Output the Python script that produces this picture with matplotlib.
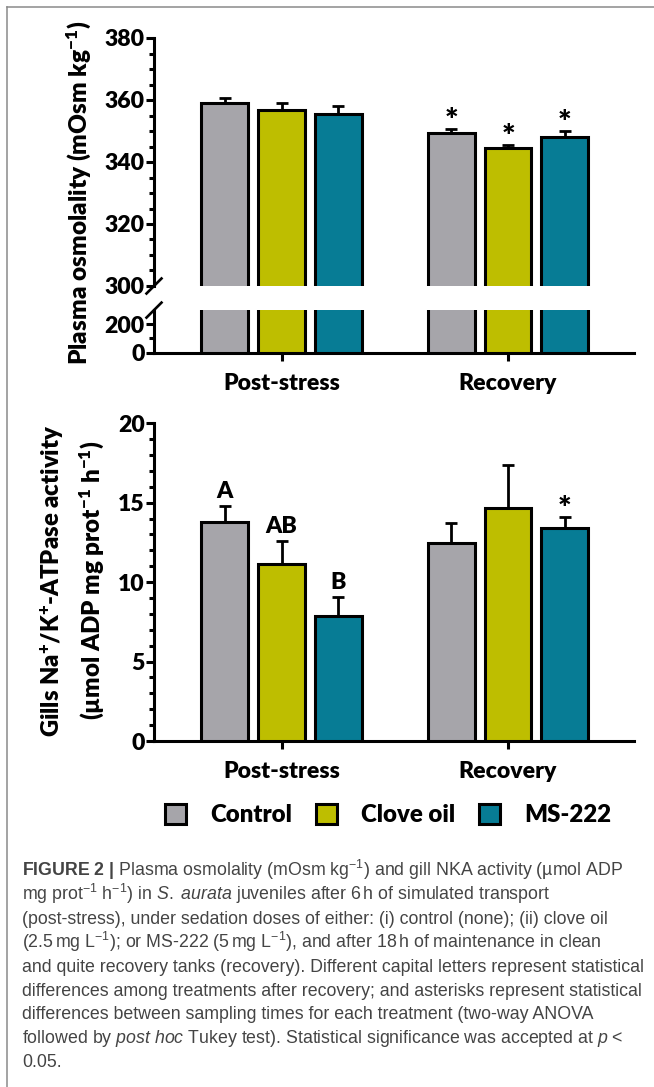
import numpy as np
import matplotlib
matplotlib.use("Agg")
import matplotlib.pyplot as plt
from matplotlib.patches import Patch
from matplotlib.lines import Line2D
from matplotlib.ticker import MultipleLocator, FixedLocator

# data
groups = ["Post-stress", "Recovery"]
treatments = ["Control", "Clove oil", "MS-222"]
colors = ["#a6a5aa", "#bebe00", "#077c95"]

osm_mean = [[359.1, 349.3], [356.7, 344.6], [355.4, 348.2]]
osm_err = [[1.6, 1.4], [2.2, 0.8], [2.6, 1.7]]
osm_marks = [["", "*"], ["", "*"], ["", "*"]]

nka_mean = [[13.8, 12.45], [11.15, 14.67], [7.86, 13.38]]
nka_err = [[1.0, 1.28], [1.45, 2.73], [1.2, 0.75]]
nka_marks = [["A", ""], ["AB", ""], ["B", "*"]]

caption = [
    r"$\mathbf{FIGURE\ 2\ |}$ Plasma osmolality (mOsm kg$^{-1}$) and gill NKA activity (µmol ADP",
    r"mg prot$^{-1}$ h$^{-1}$) in $\mathit{S.\ aurata}$ juveniles after 6$\,$h of simulated transport",
    r"(post-stress), under sedation doses of either: (i) control (none); (ii) clove oil",
    r"(2.5$\,$mg L$^{-1}$); or MS-222 (5$\,$mg L$^{-1}$), and after 18$\,$h of maintenance in clean",
    r"and quite recovery tanks (recovery). Different capital letters represent statistical",
    r"differences among treatments after recovery; and asterisks represent statistical",
    r"differences between sampling times for each treatment (two-way ANOVA",
    r"followed by $\mathit{post\ hoc}$ Tukey test). Statistical significance was accepted at $\mathit{p}$ <",
    r"0.05.",
]

W, H = 654, 1087
WT = "heavy"
plt.rcParams["font.family"] = ["Lato", "DejaVu Sans"]
plt.rcParams["font.weight"] = WT
plt.rcParams["mathtext.fontset"] = "custom"
plt.rcParams["mathtext.rm"] = "Liberation Sans:weight=normal"
plt.rcParams["mathtext.it"] = "Liberation Sans:style=italic:weight=normal"
plt.rcParams["mathtext.bf"] = "Liberation Sans:weight=bold"
plt.rcParams["mathtext.sf"] = "Lato:weight=" + WT

FS = 16.6
LW = 2.2

fig = plt.figure(figsize=(W / 100, H / 100), dpi=100)


def rect(l, t, r, b):
    return [l / W, 1 - b / H, (r - l) / W, (b - t) / H]


x = np.arange(len(groups))
off = 0.25
bw = 0.207


def style(ax):
    for s in ["top", "right"]:
        ax.spines[s].set_visible(False)
    for s in ["left", "bottom"]:
        ax.spines[s].set_linewidth(LW)
    ax.tick_params(axis="y", which="major", length=5.8, width=LW, pad=1, labelsize=FS)
    ax.tick_params(axis="y", which="minor", length=3.6, width=LW)
    ax.tick_params(axis="x", length=6, width=LW, pad=8.5, labelsize=FS)
    ax.set_xlim(-0.563, 1.556)


def draw_bars(ax, means, errs=None, marks=None):
    for i in range(len(treatments)):
        pos = x + (i - 1) * off
        ax.bar(pos, means[i], bw, color=colors[i], edgecolor="black", linewidth=LW, zorder=3)
        if errs is not None:
            ax.errorbar(pos, means[i], yerr=[np.zeros(len(groups)), errs[i]], fmt="none",
                        ecolor="black", elinewidth=2.0, capsize=4.3, capthick=2.0, zorder=2)
        if marks is not None:
            for j in range(len(groups)):
                m = marks[i][j]
                if not m:
                    continue
                if m == "*":
                    ax.annotate(m, (pos[j], means[i][j] + errs[i][j]), xytext=(0, -1.5),
                                textcoords="offset points", ha="center", va="baseline",
                                fontsize=23, zorder=5)
                else:
                    ax.annotate(m, (pos[j], means[i][j] + errs[i][j]), xytext=(0, 5.5),
                                textcoords="offset points", ha="center", va="baseline",
                                fontsize=FS, zorder=5)


# plasma osmolality, broken axis
ax_up = fig.add_axes(rect(154, 38, 634, 286))
ax_lo = fig.add_axes(rect(154, 310.1, 634, 352.7))
for ax in (ax_up, ax_lo):
    style(ax)
    draw_bars(ax, osm_mean, osm_err if ax is ax_up else None, osm_marks if ax is ax_up else None)

ax_up.set_ylim(300, 380)
ax_up.spines["bottom"].set_visible(False)
ax_up.set_xticks([])
ax_up.yaxis.set_major_locator(MultipleLocator(20))
ax_up.yaxis.set_minor_locator(MultipleLocator(5))

ax_lo.set_ylim(0, 300)
ax_lo.set_yticks([0, 200])
ax_lo.yaxis.set_minor_locator(FixedLocator([100]))
ax_lo.set_xticks(x)
ax_lo.set_xticklabels(groups)

# break marks
for yb in (286, 310.1):
    fig.add_artist(Line2D([(154 - 7.5) / W, (154 + 7.5) / W], [1 - (yb + 7.5) / H, 1 - (yb - 7.5) / H],
                          color="black", lw=1.9, transform=fig.transFigure))

fig.text(79 / W, 1 - 193 / H, r"Plasma osmolality (mOsm kg$^{\mathsf{-1}}$)", rotation=90,
         ha="center", va="center", fontsize=17.6)

# gill NKA activity
ax2 = fig.add_axes(rect(154, 423.3, 634, 741))
style(ax2)
draw_bars(ax2, nka_mean, nka_err, nka_marks)
ax2.set_ylim(0, 20)
ax2.yaxis.set_major_locator(MultipleLocator(5))
ax2.yaxis.set_minor_locator(MultipleLocator(1))
ax2.set_xticks(x)
ax2.set_xticklabels(groups)

fig.text(52 / W, 1 - 581 / H, r"Gills Na$^{\mathsf{+}}$/K$^{\mathsf{+}}$-ATPase activity", rotation=90,
         ha="center", va="center", fontsize=17.2)
fig.text(92 / W, 1 - 580 / H, r"(µmol ADP mg prot$^{\mathsf{-1}}$ h$^{\mathsf{-1}}$)", rotation=90,
         ha="center", va="center", fontsize=17.4)

handles = [Patch(facecolor=c, edgecolor="black", linewidth=LW) for c in colors]
fig.legend(handles, treatments, loc="center", bbox_to_anchor=(388 / W, 1 - 815 / H), ncol=3,
           frameon=False, prop={"size": 17.3, "weight": WT}, handlelength=0.875,
           handleheight=0.875, handletextpad=1.0, columnspacing=1.0, borderpad=0)

# caption
for k, line in enumerate(caption):
    fig.text(22 / W, 1 - (876 + k * 23.9) / H, line, ha="left", va="baseline", fontsize=12.8,
             fontweight="normal", family=["Liberation Sans", "DejaVu Sans"], color="#444444")

# frame of the figure panel
fig.add_artist(Line2D([7 / W, 7 / W], [0, 1 - 7 / H], color="#8a8a8a", lw=1.1, transform=fig.transFigure))
fig.add_artist(Line2D([7 / W, 1], [1 - 7 / H, 1 - 7 / H], color="#8a8a8a", lw=1.1, transform=fig.transFigure))

fig.savefig("out.png", dpi=100)
